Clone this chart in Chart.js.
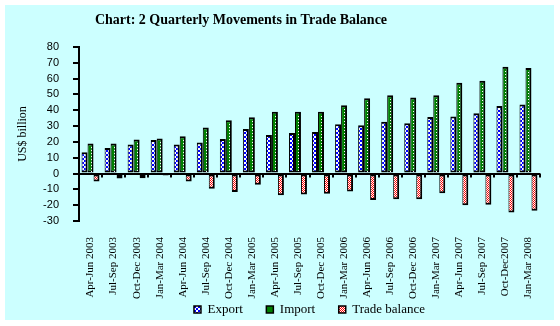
<!DOCTYPE html>
<html>
<head>
<meta charset="utf-8">
<script src="https://cdn.jsdelivr.net/npm/chart.js@4.4.0/dist/chart.umd.min.js"></script>
<style>
  html, body { margin: 0; padding: 0; background: #fff; }
  #wrap { width: 560px; height: 326px; }
</style>
</head>
<body>
<div id="wrap"><canvas id="tradeChart" width="560" height="326"></canvas></div>
<script>
const quarters = [
  "Apr-Jun 2003", "Jul-Sep 2003", "Oct-Dec 2003", "Jan-Mar 2004",
  "Apr-Jun 2004", "Jul-Sep 2004", "Oct-Dec 2004", "Jan-Mar 2005",
  "Apr-Jun 2005", "Jul-Sep 2005", "Oct-Dec 2005", "Jan-Mar 2006",
  "Apr-Jun 2006", "Jul-Sep 2006", "Oct-Dec 2006", "Jan-Mar 2007",
  "Apr-Jun 2007", "Jul-Sep 2007", "Oct-Dec2007", "Jan-Mar 2008"
];
const exportVals = [13.4, 16.1, 18.4, 21.2, 18.4, 19.7, 21.8, 28.1, 24.3, 25.6,
                    26.2, 31.2, 30.6, 32.7, 31.8, 35.8, 36.0, 38.1, 42.7, 43.6];
const importVals = [19.0, 19.0, 21.6, 22.2, 23.5, 29.1, 33.7, 35.6, 39.0, 39.0,
                    39.0, 43.2, 47.6, 49.5, 48.0, 49.5, 57.4, 58.7, 67.5, 66.8];
const balanceVals = [-5.0, -3.1, -3.0, -1.2, -5.0, -9.6, -11.7, -7.1, -13.8, -13.2,
                     -12.8, -11.3, -16.8, -16.3, -16.3, -12.4, -20.1, -19.7, -24.7, -23.5];
const yMin = -30, yMax = 80, yStep = 10;

const serif = "'Liberation Serif', 'Times New Roman', serif";

// small checker tiles used as bar fills
function checker(c1, c2, cell) {
  const t = document.createElement("canvas");
  t.width = t.height = cell * 2;
  const g = t.getContext("2d");
  g.fillStyle = c2; g.fillRect(0, 0, cell * 2, cell * 2);
  g.fillStyle = c1;
  g.fillRect(0, 0, cell, cell);
  g.fillRect(cell, cell, cell, cell);
  return g.createPattern(t, "repeat");
}
const ctx = document.getElementById("tradeChart").getContext("2d");
const bluePat = checker("#0000ff", "#ffffff", 2);
const redPat = checker("#ff0000", "#ffffff", 1);
const barBorder = { left: 1, right: 2, top: 2, bottom: 2 };

const panelBg = {
  id: "panelBg",
  beforeDraw(chart) {
    const c = chart.ctx;
    c.save();
    c.fillStyle = "#ccffff";
    c.fillRect(5, 5, 549, 315);
    c.fillStyle = "#000";
    c.font = "bold 14px " + serif;
    c.textAlign = "center";
    c.textBaseline = "middle";
    c.fillText("Chart: 2 Quarterly Movements in Trade Balance", 241, 20);
    c.restore();
  }
};

// white dotted stripe down the import bars + category ticks on the zero line
const barDetails = {
  id: "barDetails",
  afterDatasetsDraw(chart) {
    const c = chart.ctx;
    const meta = chart.getDatasetMeta(1);
    c.save();
    c.fillStyle = "#fff";
    meta.data.forEach(bar => {
      const x = Math.round(bar.x);
      for (let y = Math.round(bar.y) + 4; y < bar.base - 1; y += 3) c.fillRect(x, y, 1, 1);
    });
    const xs = chart.scales.x, ys = chart.scales.y;
    const y0 = ys.getPixelForValue(0);
    const half = (xs.getPixelForValue(1) - xs.getPixelForValue(0)) / 2;
    c.strokeStyle = "#000";
    c.lineWidth = 2;
    for (let i = 0; i <= quarters.length; i++) {
      const x = Math.round(xs.getPixelForValue(i) - half);
      c.beginPath();
      c.moveTo(x, y0);
      c.lineTo(x, y0 + 4);
      c.stroke();
    }
    c.restore();
  }
};

new Chart(ctx, {
  type: "bar",
  data: {
    labels: quarters,
    datasets: [
      { label: "Export", data: exportVals, backgroundColor: bluePat, borderColor: "#000", borderWidth: barBorder },
      { label: "Import", data: importVals, backgroundColor: "#008000", borderColor: "#000", borderWidth: barBorder },
      { label: "Trade balance", data: balanceVals, backgroundColor: redPat, borderColor: "#000", borderWidth: barBorder }
    ]
  },
  options: {
    responsive: false,
    animation: false,
    categoryPercentage: 0.78,
    barPercentage: 1.0,
    datasets: { bar: { borderSkipped: false } },
    layout: { padding: { left: 16, right: 20, top: 47, bottom: 0 } },
    plugins: {
      title: { display: false },
      tooltip: { enabled: false },
      legend: {
        position: "bottom",
        fullSize: false,
        labels: {
          boxWidth: 7, boxHeight: 7, padding: 4,
          color: "#000",
          font: { family: serif, size: 13 },
          generateLabels(chart) {
            const items = Chart.defaults.plugins.legend.labels.generateLabels(chart);
            items.forEach((it, i) => {
              it.lineWidth = 1.5;
              it.strokeStyle = "#000";
              if (i < items.length - 1) it.text += "\u2003\u2002";
            });
            return items;
          }
        }
      }
    },
    scales: {
      x: {
        afterFit(scale) { scale.height = 78; },
        grid: { display: false },
        border: { display: false },
        ticks: {
          minRotation: 90, maxRotation: 90, padding: 8, autoSkip: false,
          color: "#000",
          font: { family: serif, size: 11 }
        }
      },
      y: {
        min: yMin, max: yMax,
        afterFit(scale) { scale.width = 63; },
        border: { color: "#000", width: 2 },
        grid: {
          color: c => c.tick && c.tick.value === 0 ? "#000" : "transparent",
          lineWidth: 2,
          tickColor: "#000",
          tickLength: 6
        },
        ticks: {
          stepSize: yStep, padding: 14, autoSkip: false,
          color: "#000",
          font: { family: "'Liberation Sans', Arial, sans-serif", size: 11 }
        },
        title: {
          display: true, text: "US$ billion", color: "#000",
          font: { family: serif, size: 12 }, padding: 0
        }
      }
    }
  },
  plugins: [panelBg, barDetails]
});
</script>
</body>
</html>
